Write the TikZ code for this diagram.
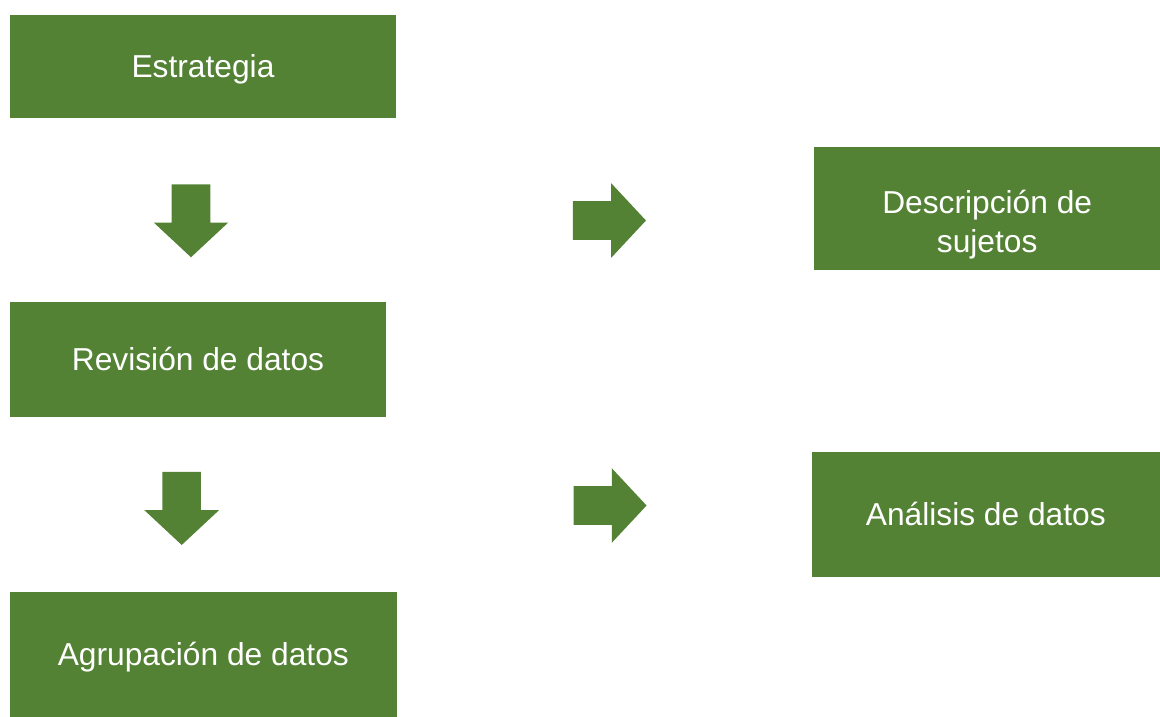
\documentclass[tikz,border=0pt]{standalone}
\usepackage{fontspec}
\setmainfont{Liberation Sans}
\usetikzlibrary{shapes.arrows}
\definecolor{verde}{RGB}{84,130,53}

\begin{document}
\begin{tikzpicture}[x=0.75pt, y=-0.75pt,
	caja/.style={fill=verde, draw=none, inner sep=0pt, align=center, text=white,
		font=\fontsize{23.8}{29.3}\selectfont},
	linea/.style={caja, text height=21.4pt, text depth=4.8pt},
	flecha/.style={single arrow, fill=verde, draw=none, inner xsep=0pt, inner ysep=14.25pt,
		minimum height=54.75pt, minimum width=55.5pt, anchor=tail,
		single arrow head extend=13.5pt, single arrow tip angle=94}]
			\useasboundingbox (0,0) rectangle (1160,717);
			
			\node[linea, minimum width=289.5pt, minimum height=77.25pt] at(203,66.5) (estr)  {Estrategia};
			\node[linea, minimum width=282pt, minimum height=86pt] at(198,359.3) (rev)  {Revisión de datos};
			\node[linea, minimum width=290pt, minimum height=93.5pt] at(203.3,654.7) (agr)  {Agrupación de datos};
			\node[caja, minimum width=259.3pt, minimum height=92pt] at(987.2,208.7) (desc)  {};
			\node[caja] at([yshift=-11.6pt]desc.center) (desctxt)  {Descripción de\\sujetos};
			\node[linea, minimum width=261.2pt, minimum height=93.2pt] at(985.8,514.5) (anal)  {Análisis de datos};
			
			\node[flecha, rotate=-90] at(191,184) (baja1)  {};
			\node[flecha, rotate=-90] at(181.7,471.7) (baja2)  {};
			\node[flecha] at(572.7,220.5) (der1)  {};
			\node[flecha] at(573.3,505.5) (der2)  {};
			\end{tikzpicture}
\end{document}
